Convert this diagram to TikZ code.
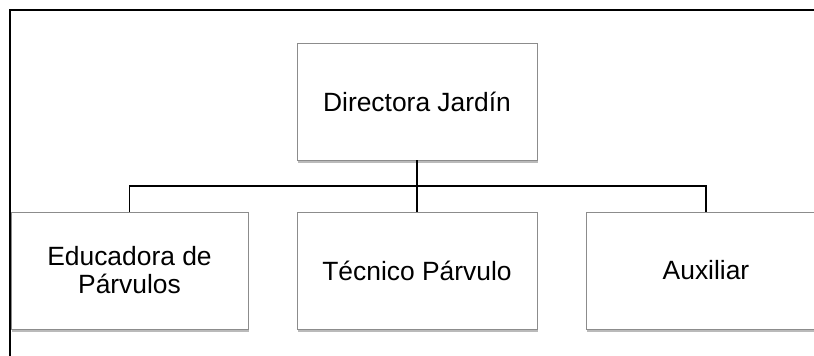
\documentclass[tikz,border=0pt]{standalone}
\usepackage{fontspec}
\setmainfont{Liberation Sans}
\usetikzlibrary{shadows}
\begin{document}
\begin{tikzpicture}[x=1pt,y=1pt,
  box/.style={draw=black!45, line width=0.8pt, fill=white, minimum width=240pt, minimum height=117pt,
    inner sep=0pt, align=center, font=\fontsize{26.4}{28}\selectfont,
    drop shadow={shadow xshift=0.8pt, shadow yshift=-3.5pt, opacity=0.45, fill=black!60}},
  link/.style={line width=1.5pt, black},
  frame/.style={line width=2pt, black}]
\useasboundingbox (0,0) rectangle (814,356);
\clip (0,0) rectangle (814,356);
\draw[frame] (10,0) -- (10,346) -- (814,346);
\node[box] (dir) at (417,254.5) {Directora Jardín};
\node[box, minimum width=237pt] (edu) at (129.5,85.5) {Educadora de\\Párvulos};
\node[box] (tec) at (417,85.5) {Técnico Párvulo};
\node[box] (aux) at (706,85.5) {Auxiliar};
\coordinate (bar) at (417,170);
\draw[link] (dir.south) -- (tec.north);
\draw[link] (edu.north) |- (bar) -| (aux.north);
\end{tikzpicture}
\end{document}
